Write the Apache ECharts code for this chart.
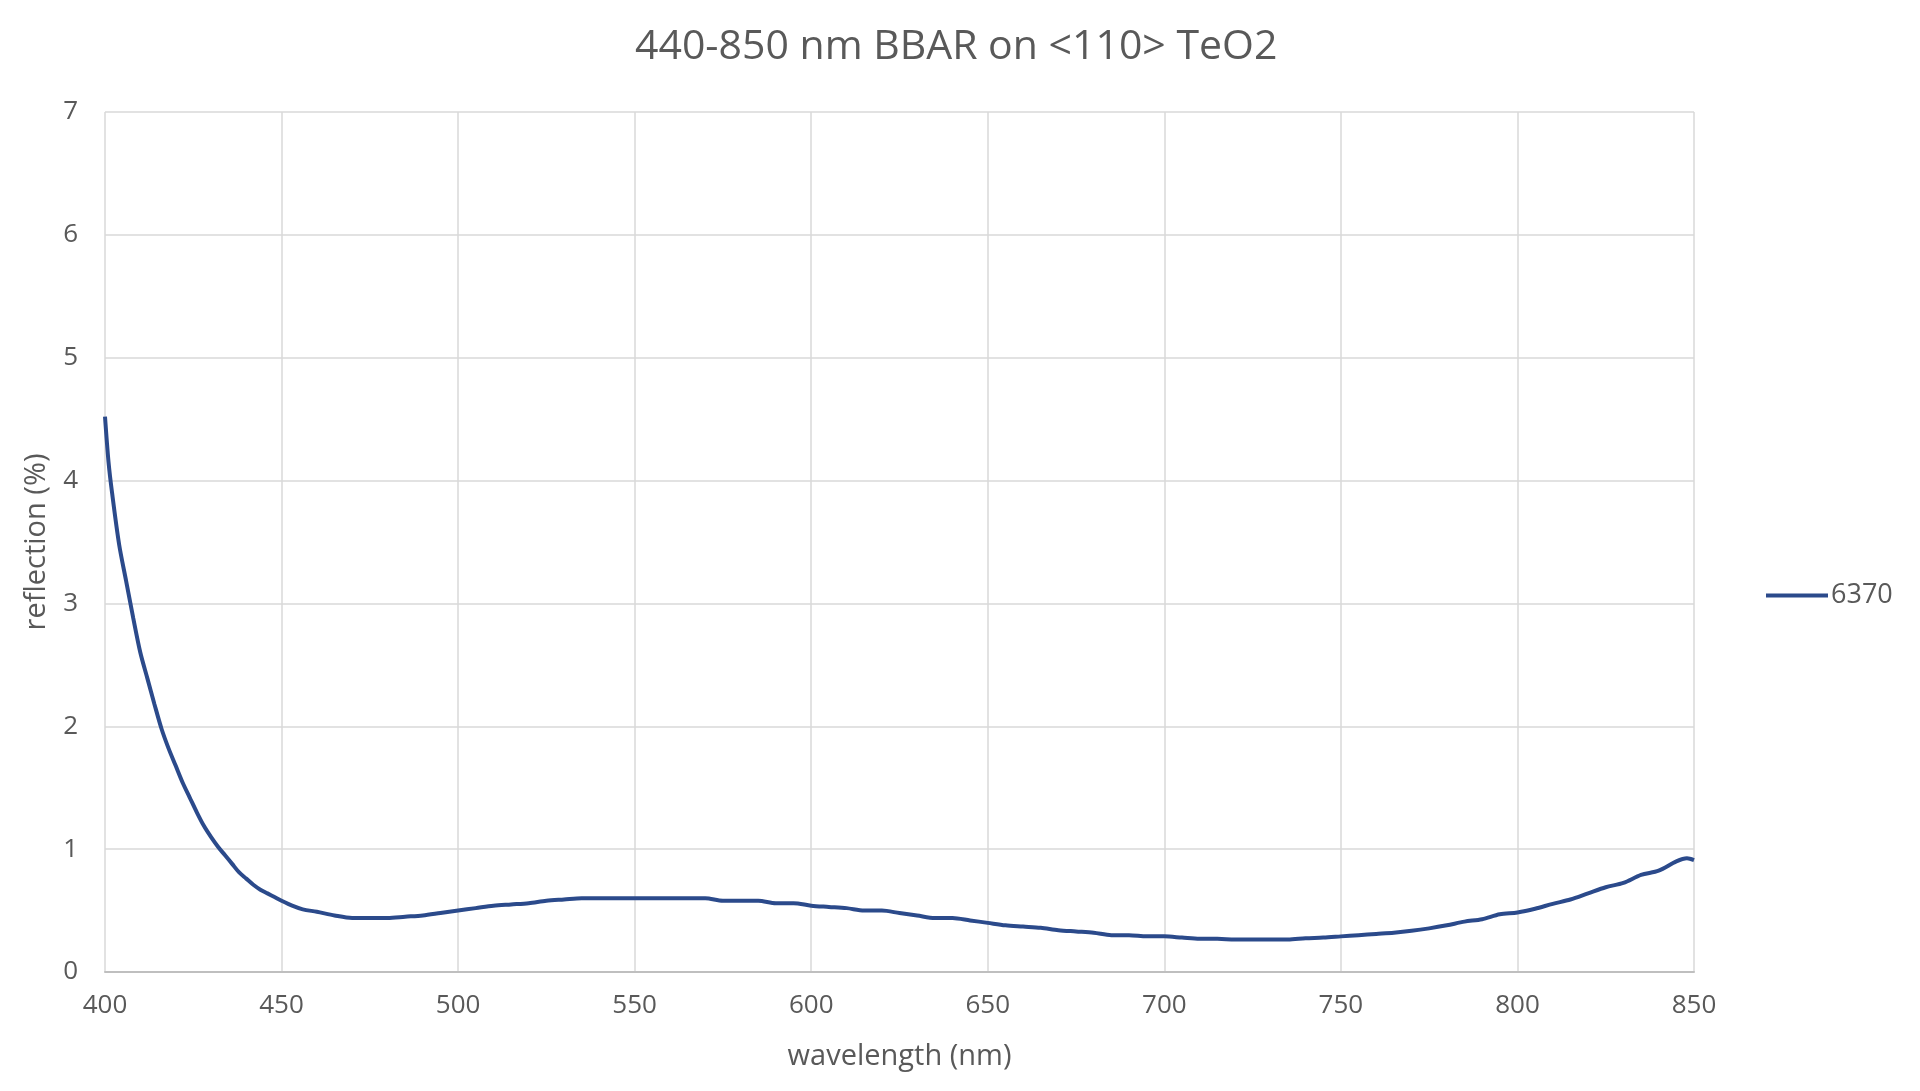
<!DOCTYPE html>
<html>
<head>
<meta charset="utf-8">
<title>440-850 nm BBAR on &lt;110&gt; TeO2</title>
<script src="https://cdn.jsdelivr.net/npm/echarts@6/dist/echarts.min.js"></script>
<style>
  html, body { margin: 0; padding: 0; background: #fff; }
  #chart { width: 1920px; height: 1091px; }
</style>
</head>
<body>
<div id="chart"></div>
<script>
// wavelength (nm)
var wavelength = [
  400, 401, 402, 404, 406, 408, 410, 412, 414, 416, 418, 420, 422, 424, 426, 428,
  430, 432, 434, 436, 438, 440, 442, 444, 446, 448, 450, 453, 456, 460, 465, 470,
  475, 480, 485, 490, 495, 500, 505, 510, 515, 520, 525, 530, 535, 540, 545, 550,
  555, 560, 565, 570, 575, 580, 585, 590, 595, 600, 605, 610, 615, 620, 625, 630,
  635, 640, 645, 650, 655, 660, 665, 670, 675, 680, 685, 690, 695, 700, 705, 710,
  715, 720, 725, 730, 735, 740, 745, 750, 755, 760, 765, 770, 775, 780, 785, 790,
  795, 800, 805, 810, 815, 820, 825, 830, 835, 840, 845, 848, 850
];
// reflection (%) for sample 6370
var reflection6370 = [
  4.52, 4.15, 3.90, 3.48, 3.18, 2.88, 2.60, 2.39, 2.18, 1.98, 1.82, 1.68, 1.54, 1.42, 1.30, 1.19,
  1.10, 1.02, 0.95, 0.88, 0.81, 0.76, 0.71, 0.67, 0.64, 0.61, 0.58, 0.54, 0.51, 0.49, 0.46, 0.44,
  0.44, 0.44, 0.45, 0.46, 0.48, 0.50, 0.52, 0.54, 0.55, 0.56, 0.58, 0.59, 0.60, 0.60, 0.60, 0.60,
  0.60, 0.60, 0.60, 0.60, 0.58, 0.58, 0.58, 0.56, 0.56, 0.54, 0.53, 0.52, 0.50, 0.50, 0.48, 0.46,
  0.44, 0.44, 0.42, 0.40, 0.38, 0.37, 0.36, 0.34, 0.33, 0.32, 0.30, 0.30, 0.29, 0.29, 0.28, 0.27,
  0.27, 0.265, 0.265, 0.265, 0.265, 0.275, 0.28, 0.29, 0.30, 0.31, 0.32, 0.335, 0.355, 0.38, 0.41, 0.43,
  0.47, 0.485, 0.515, 0.555, 0.59, 0.64, 0.69, 0.725, 0.79, 0.825, 0.90, 0.925, 0.91
];
var seriesName = '6370';
var titleText = '440-850 nm BBAR on <110> TeO2';

var textColor = '#595959';
var gridColor = '#D9D9D9';
var font = 'Open Sans';

var points = wavelength.map(function (w, i) { return [w, reflection6370[i]]; });

var myChart = echarts.init(document.getElementById('chart'));

var options = {
  backgroundColor: '#ffffff',
  animation: false,
  title: {
    text: titleText,
    left: 630,
    top: 22,
    textStyle: { color: textColor, fontSize: 41, fontWeight: 'normal', fontFamily: font }
  },
  legend: {
    data: [seriesName],
    orient: 'vertical',
    left: 1761,
    top: 577,
    icon: 'rect',
    itemWidth: 62,
    itemHeight: 4,
    itemGap: 10,
    textStyle: { color: textColor, fontSize: 27, fontFamily: font, padding: [0, 0, 0, -2] }
  },
  grid: { left: 105, right: 226, top: 112, bottom: 119 },
  xAxis: {
    type: 'value',
    min: 400,
    max: 850,
    interval: 50,
    name: 'wavelength (nm)',
    nameLocation: 'middle',
    nameGap: 70,
    nameTextStyle: { color: textColor, fontSize: 29, fontFamily: font },
    axisLine: { show: true, lineStyle: { color: '#BFBFBF', width: 2 } },
    axisTick: { show: false },
    axisLabel: { color: textColor, fontSize: 26, fontFamily: font, margin: 21 },
    splitLine: { show: true, lineStyle: { color: gridColor, width: 1.5 } }
  },
  yAxis: {
    type: 'value',
    min: 0,
    max: 7,
    interval: 1,
    name: 'reflection (%)',
    nameLocation: 'middle',
    nameGap: 54,
    nameTextStyle: { color: textColor, fontSize: 29, fontFamily: font },
    axisLine: { show: false },
    axisTick: { show: false },
    axisLabel: { color: textColor, fontSize: 26, fontFamily: font, margin: 27 },
    splitLine: { show: true, lineStyle: { color: gridColor, width: 1.5 } }
  },
  series: [
    {
      name: seriesName,
      type: 'line',
      data: points,
      showSymbol: false,
      symbol: 'none',
      smooth: 0.3,
      lineStyle: { color: '#2B4A8B', width: 4 },
      itemStyle: { color: '#2B4A8B' }
    }
  ]
};

myChart.setOption(options);
</script>
</body>
</html>
